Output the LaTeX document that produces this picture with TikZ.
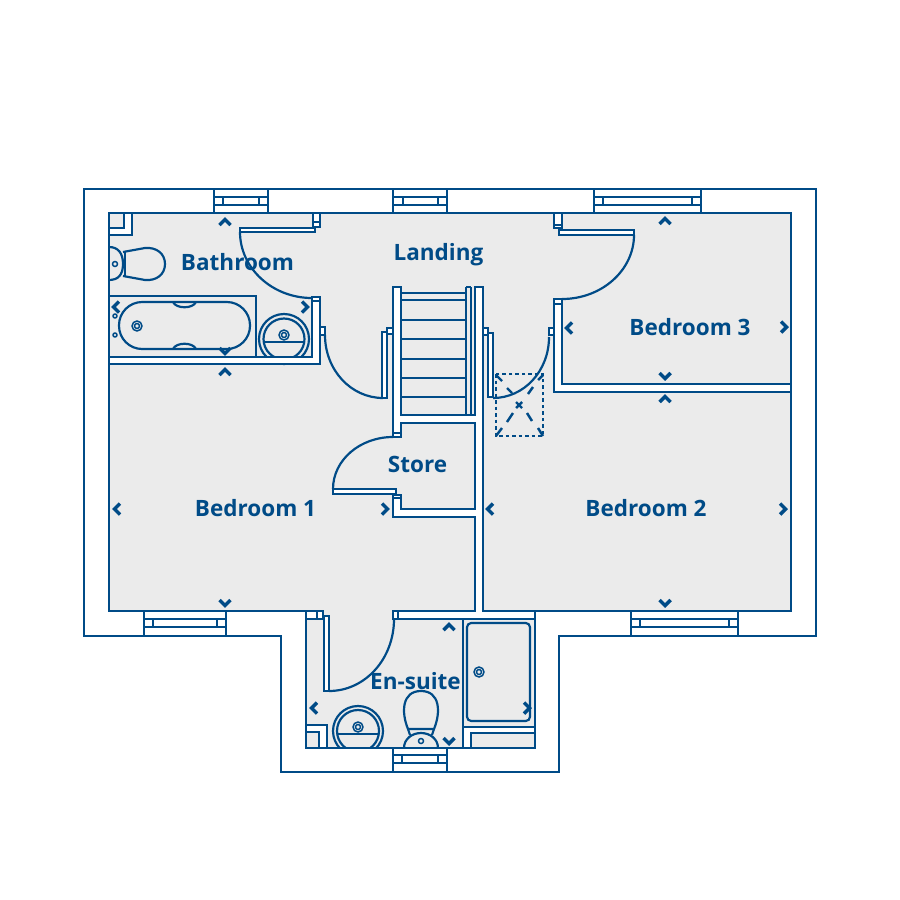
\documentclass[tikz,border=0pt]{standalone}
\usepackage{fontspec}
\setmainfont{Open Sans}
\definecolor{planblue}{RGB}{0,75,135}
\definecolor{planfloor}{RGB}{235,235,235}
\begin{document}
\begin{tikzpicture}[x=0.01cm, y=-0.01cm, line join=miter,
    every node/.style={font=\fontsize{6.4pt}{8pt}\selectfont\bfseries, text=planblue, inner sep=0pt},
    wall/.style={draw=planblue, line width=0.72pt, fill=white},
    floor/.style={draw=planblue, line width=0.72pt, fill=planfloor},
    leaf/.style={draw=planblue, line width=0.55pt, fill=white},
    fitting/.style={draw=planblue, line width=0.62pt},
    plug/.style={draw=planblue, line width=0.42pt},
    chevron/.style={draw=planblue, line width=1pt},
    hatch/.style={draw=planblue, line width=0.7pt, dash pattern=on 1pt off 0.85pt},
    hatchline/.style={draw=planblue, line width=0.7pt}]
  \useasboundingbox (0,0) rectangle (900,900);

  \draw[wall] (84,189) -- (816,189) -- (816,636) -- (559,636) -- (559,772) -- (281,772) -- (281,636) -- (84,636) -- cycle;
  \draw[floor] (109,213) -- (791,213) -- (791,611) -- (535,611) -- (535,748) -- (306,748) -- (306,611) -- (109,611) -- cycle;

  \foreach \xa/\xb/\xc/\xd/\ya/\yb/\yc/\yd in {
      214/223/259/268/189/197/205/213, 393/403/438/447/189/197/205/213, 594/603/692/701/189/197/205/213,
      144/153/217/226/611/619/627/636, 631/640/729/738/611/619/627/636, 393/402/438/447/748/755/763/772} {
    \draw[wall, line width=0.62pt] (\xa,\ya) rectangle (\xd,\yd);
    \draw[wall, line width=0.8pt] (\xa,\yb) rectangle (\xd,\yc);
    \draw[fitting] (\xb,\yb) -- (\xb,\yc) (\xc,\yb) -- (\xc,\yc);
  }

  \draw[wall] (109,213) rectangle (132,235);
  \draw[floor] (109,213) rectangle (124,228);
  \draw[fitting] (109,247) .. controls (118,247) and (123,253) .. (123,264) .. controls (123,275) and (118,280) .. (109,280);
  \draw[fitting] (125,252) -- (125,276);
  \draw[fitting] (123,252) -- (145,248) .. controls (157,247) and (165,254) .. (165,264) .. controls (165,274) and (157,281) .. (145,280) -- (123,276);
  \draw[plug] (115,264) circle (2.5);

  \draw[fitting] (109,296) rectangle (256,357);
  \draw[fitting, rounded corners=6.6pt] (119,302) rectangle (250,349);
  \draw[fitting] (173,302) .. controls (176,309) and (193,309) .. (196,302);
  \draw[fitting] (173,349) .. controls (176,342) and (193,342) .. (196,349);
  \foreach \x/\y in {137/326, 284/335, 479/672, 358/727} {
    \draw[plug] (\x,\y) circle (5);
    \draw[plug] (\x,\y) circle (2.5);
  }
  \draw[plug] (115,316) circle (2) (115,335) circle (2);
  \draw[fitting] (284,339) circle (25) (284,339) circle (20.5);
  \draw[fitting] (264,342) -- (304,342);

  \draw[wall] (109,357) -- (312,357) -- (312,297) -- (320,297) -- (320,364) -- (109,364) -- cycle;
  \draw[plug] (312,301) -- (320,301);
  \draw[wall] (313,213) rectangle (320,227);
  \draw[plug] (313,222) -- (320,222);
  \draw[leaf] (240,228) rectangle (315,232);
  \draw[fitting] (240,232) .. controls (240,268) and (272,298) .. (312,298);

  \draw[leaf] (320,327) rectangle (325,335);
  \draw[leaf] (382,332) rectangle (387,398);
  \draw[leaf] (387,328) rectangle (393,334);
  \draw[fitting] (325,335) .. controls (325,370) and (351,398) .. (383,398);

  \foreach \y in {293,300,320,339,359,378,397} {
    \draw[fitting] (401,\y) -- (466,\y);
  }
  \draw[fitting] (466,287) -- (466,415) (471,287) -- (471,415);
  \draw[fitting] (466,287) -- (471,287);
  \draw[wall] (393,287) -- (401,287) -- (401,415) -- (475,415) -- (475,287) -- (483,287) -- (483,611) -- (535,611) -- (535,619) -- (393,619) -- (393,611) -- (475,611) -- (475,517) -- (393,517) -- (393,495) -- (401,495) -- (401,509) -- (475,509) -- (475,423) -- (401,423) -- (401,437) -- (393,437) -- cycle;
  \draw[plug] (393,433) -- (401,433) (393,498) -- (401,498) (398,611) -- (398,619);
  \draw[leaf] (333,489) rectangle (396,494);
  \draw[fitting] (333,489) .. controls (333,460) and (360,437) .. (393,437);

  \draw[leaf] (483,328) rectangle (488,335);
  \draw[leaf] (488,333) rectangle (493,397);
  \draw[fitting] (493,398) .. controls (524,398) and (549,371) .. (549,337);
  \draw[leaf] (549,328) rectangle (554,335);

  \draw[hatch] (496,374) rectangle (543,436);
  \draw[hatchline] (496,375) -- (502,381) (507,388) -- (512,393) (527,413) -- (532,421) (538,428) -- (543,436);
  \draw[hatchline] (543,375) -- (538,380) (533,387) -- (528,394) (513,413) -- (507,422) (502,428) -- (496,436);
  \draw[hatchline] (516,402) -- (522,408) (522,402) -- (516,408);

  \draw[wall] (554,299) -- (562,299) -- (562,384) -- (791,384) -- (791,392) -- (554,392) -- cycle;
  \draw[plug] (554,304) -- (562,304);
  \draw[wall] (554,213) rectangle (562,228);
  \draw[plug] (554,225) -- (562,225);
  \draw[leaf] (559,230) rectangle (634,235);
  \draw[fitting] (634,235) .. controls (634,270) and (602,299) .. (562,299);

  \draw[wall] (306,611) rectangle (323,619);
  \draw[plug] (317,611) -- (317,619);
  \draw[leaf] (324,616) rectangle (329,691);
  \draw[fitting] (329,691) .. controls (365,691) and (394,659) .. (394,619);

  \draw[fitting] (463,619) -- (463,748);
  \draw[fitting, rounded corners=1.2pt] (467,623) rectangle (530,721);
  \draw[wall] (463,727) -- (535,727) -- (535,733) -- (471,733) -- (471,748) -- (463,748) -- cycle;

  \draw[wall] (306,725) rectangle (327,748);
  \draw[floor] (306,732) rectangle (319,748);
  \begin{scope}
    \clip (330,700) rectangle (390,748);
    \draw[fitting] (358,731) circle (25) (358,731) circle (21);
    \draw[fitting] (337,734) -- (379,734);
  \end{scope}
  \draw[fitting] (408,729) .. controls (401,712) and (402,691) .. (421,691) .. controls (440,691) and (441,712) .. (434,729) -- cycle;
  \draw[fitting] (408,729) -- (410,735) (434,729) -- (432,735);
  \draw[fitting] (404,748) .. controls (404,739) and (412,733) .. (421,733) .. controls (430,733) and (438,739) .. (438,748);
  \draw[plug] (421,741) circle (2.5);

  \foreach \x/\y/\r in {225/222/0, 225/372/0, 665/221/0, 665/399/0, 449/627/0,
      225/351/180, 665/376/180, 225/603/180, 665/603/180, 449/741/180,
      116/307/90, 569/328/90, 117/509/90, 490/509/90, 314/708/90,
      305/307/-90, 784/327/-90, 385/509/-90, 783/509/-90, 527/708/-90} {
    \draw[chevron, rotate around={\r:(\x,\y)}] (\x-5.5,\y+3) -- (\x,\y-2.5) -- (\x+5.5,\y+3);
  }

  \node (bathroom) at (237.5,262) {Bathroom};
  \node (landing) at (438.5,255) {Landing};
  \node (bedroomthree) at (690,327) {Bedroom 3};
  \node (store) at (417.5,464.5) {Store};
  \node (bedroomone) at (255.5,508) {Bedroom 1};
  \node (bedroomtwo) at (646,508) {Bedroom 2};
  \node (ensuite) at (415.5,681) {En-suite};
\end{tikzpicture}
\end{document}
